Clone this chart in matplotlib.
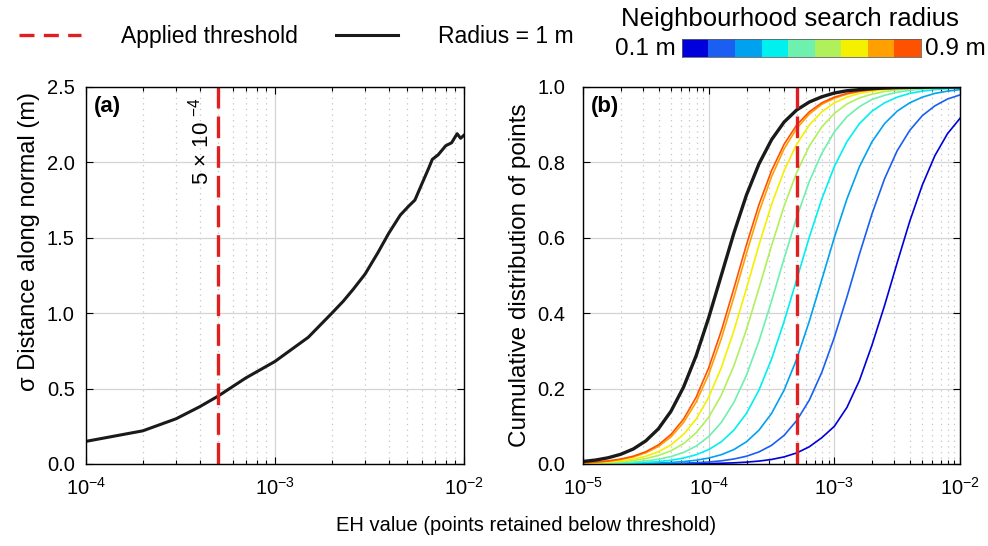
import numpy as np
import matplotlib
matplotlib.use("Agg")
import matplotlib.pyplot as plt
from matplotlib.colors import ListedColormap

plt.rcParams['font.family'] = ['Liberation Sans', 'DejaVu Sans']
plt.rcParams['mathtext.fontset'] = 'custom'
plt.rcParams['mathtext.rm'] = 'Liberation Sans'
plt.rcParams['mathtext.it'] = 'Liberation Sans:italic'
plt.rcParams['mathtext.default'] = 'regular'

# panel (a): sigma of distance along normal vs EH threshold, radius 1 m
eh_a = [1.0e-4, 2.0e-4, 3.0e-4, 4.0e-4, 5.0e-4, 7.0e-4, 1.0e-3, 1.5e-3, 2.0e-3,
        2.3e-3, 2.6e-3, 3.0e-3, 3.5e-3, 4.0e-3, 4.6e-3, 5.1e-3, 5.5e-3, 6.0e-3, 6.5e-3,
        6.8e-3, 7.3e-3, 8.0e-3, 8.6e-3, 9.2e-3, 9.6e-3, 1.0e-2]
sigma_a = [0.15, 0.22, 0.30, 0.38, 0.45, 0.57, 0.68, 0.84, 1.00,
           1.08, 1.16, 1.26, 1.40, 1.53, 1.65, 1.71, 1.75, 1.86, 1.96,
           2.02, 2.05, 2.11, 2.13, 2.19, 2.16, 2.18]

threshold = 5e-4

# panel (b): cumulative fraction of points, read at log10(EH) = -5.0 ... -2.0
log_eh_b = [-5.0, -4.9, -4.8, -4.7, -4.6, -4.5, -4.4, -4.3, -4.2, -4.1, -4.0,
            -3.9, -3.8, -3.7, -3.6, -3.5, -3.4, -3.3, -3.2, -3.1, -3.0,
            -2.9, -2.8, -2.7, -2.6, -2.5, -2.4, -2.3, -2.2, -2.1, -2.0]
radii = ['0.1 m', '0.2 m', '0.3 m', '0.4 m', '0.5 m', '0.6 m', '0.7 m', '0.8 m', '0.9 m']
cum_1m = [0.0067, 0.0105, 0.0165, 0.0257, 0.0398, 0.0614, 0.0934, 0.140, 0.204, 0.287, 0.388,
          0.500, 0.612, 0.713, 0.796, 0.860, 0.907, 0.939, 0.960, 0.974, 0.984,
          0.990, 0.993, 0.9957, 0.9973, 0.9983, 0.9989, 0.9993, 0.9996, 0.9997, 0.9998]
cum_b = {
    '0.9 m': [0.0033, 0.0052, 0.0082, 0.0131, 0.0206, 0.0325, 0.0507, 0.0784, 0.119, 0.177, 0.255,
              0.353, 0.465, 0.581, 0.688, 0.778, 0.848, 0.899, 0.934, 0.958, 0.973,
              0.983, 0.989, 0.993, 0.9957, 0.9973, 0.9983, 0.9989, 0.9993, 0.9996, 0.9997],
    '0.8 m': [0.0030, 0.0047, 0.0075, 0.0119, 0.0188, 0.0297, 0.0464, 0.0719, 0.110, 0.164, 0.238,
              0.332, 0.442, 0.558, 0.668, 0.762, 0.836, 0.890, 0.928, 0.954, 0.970,
              0.981, 0.988, 0.9925, 0.9953, 0.9970, 0.9981, 0.9988, 0.9993, 0.9995, 0.9997],
    '0.7 m': [0.0021, 0.0033, 0.0052, 0.0082, 0.0131, 0.0206, 0.0325, 0.0507, 0.0784, 0.119, 0.177,
              0.255, 0.353, 0.465, 0.581, 0.688, 0.778, 0.848, 0.899, 0.934, 0.958,
              0.973, 0.983, 0.989, 0.993, 0.9957, 0.9973, 0.9983, 0.9989, 0.9993, 0.9996],
    '0.6 m': [0.0015, 0.0024, 0.0037, 0.0058, 0.0092, 0.0144, 0.0225, 0.0350, 0.0540, 0.0825, 0.124,
              0.182, 0.260, 0.356, 0.466, 0.579, 0.684, 0.773, 0.843, 0.894, 0.930,
              0.955, 0.971, 0.981, 0.988, 0.9924, 0.9951, 0.9969, 0.9980, 0.9987, 0.9992],
    '0.5 m': [0.0008, 0.0013, 0.0021, 0.0032, 0.0051, 0.0080, 0.0126, 0.0197, 0.0306, 0.0474, 0.0727,
              0.110, 0.163, 0.235, 0.326, 0.432, 0.545, 0.654, 0.749, 0.824, 0.881,
              0.921, 0.948, 0.967, 0.978, 0.986, 0.9912, 0.9944, 0.9964, 0.9977, 0.9986],
    '0.4 m': [0.0004, 0.0007, 0.0010, 0.0016, 0.0026, 0.0041, 0.0064, 0.0100, 0.0157, 0.0246, 0.0382,
              0.0588, 0.0896, 0.134, 0.196, 0.278, 0.378, 0.489, 0.601, 0.703, 0.789,
              0.855, 0.903, 0.936, 0.958, 0.973, 0.983, 0.989, 0.993, 0.9955, 0.9972],
    '0.3 m': [0.0002, 0.0003, 0.0004, 0.0007, 0.0010, 0.0016, 0.0026, 0.0041, 0.0064, 0.0100, 0.0157,
              0.0246, 0.0382, 0.0588, 0.0896, 0.134, 0.196, 0.278, 0.378, 0.489, 0.601,
              0.703, 0.789, 0.855, 0.903, 0.936, 0.958, 0.973, 0.983, 0.989, 0.993],
    '0.2 m': [0.0001, 0.0001, 0.0001, 0.0002, 0.0004, 0.0006, 0.0009, 0.0014, 0.0022, 0.0034, 0.0053,
              0.0084, 0.0132, 0.0205, 0.0320, 0.0495, 0.0759, 0.115, 0.169, 0.243, 0.336,
              0.443, 0.557, 0.664, 0.757, 0.831, 0.885, 0.924, 0.950, 0.968, 0.979],
    '0.1 m': [0.0, 0.0, 0.0001, 0.0001, 0.0001, 0.0001, 0.0002, 0.0003, 0.0005, 0.0008, 0.0013,
              0.0020, 0.0031, 0.0049, 0.0077, 0.0120, 0.0188, 0.0293, 0.0455, 0.0697, 0.100,
              0.150, 0.222, 0.316, 0.421, 0.534, 0.644, 0.740, 0.818, 0.876, 0.917],
}
radius_colors = ['#0000dc', '#1a5ef2', '#00a2f0', '#00f0f0', '#6ef0ae',
                 '#b0f05a', '#f5f000', '#ffa000', '#ff5200']

tick_fs = 14.5
red = '#e02020'
dash = (0, (6.5, 2.4))

fig = plt.figure(figsize=(9.88, 5.46), dpi=100)
ax_a = fig.add_axes([0.0870, 0.1502, 0.3826, 0.6905])
ax_b = fig.add_axes([0.5901, 0.1502, 0.3816, 0.6905])


def style_axis(ax):
    ax.set_xscale('log')
    ax.grid(True, which='major', color='#d4d4d4', lw=0.9, ls='-')
    ax.grid(True, which='minor', axis='x', color='#c4c4c4', lw=0.9, ls=(0, (1, 3.5)))
    ax.set_axisbelow(True)
    ax.tick_params(which='both', direction='in', top=True, right=True,
                   labelsize=tick_fs, color='black')
    ax.tick_params(axis='x', pad=9)
    ax.tick_params(which='major', length=5, width=0.8)
    ax.tick_params(which='minor', length=3, width=0.8)
    for s in ax.spines.values():
        s.set_linewidth(1.0)


# ---- (a)
style_axis(ax_a)
ax_a.plot(eh_a, sigma_a, color='#1a1a1a', lw=2.2)
ax_a.axvline(threshold, color=red, lw=2.4, ls=dash)
ax_a.set_xlim(1e-4, 1e-2)
ax_a.set_ylim(0, 2.5)
ax_a.set_yticks(np.arange(0, 2.51, 0.5))
ax_a.set_yticklabels(['%.1f' % v for v in np.arange(0, 2.51, 0.5)])
ax_a.tick_params(axis='y', pad=8)
ax_a.set_ylabel('σ Distance along normal (m)', fontsize=17)
ax_a.yaxis.set_label_coords(-0.122, 0.59)
ax_a.text(0.02, 0.975, '(a)', transform=ax_a.transAxes, fontsize=16,
          fontweight='bold', va='top', ha='left')
ax_a.text(4.06e-4, 2.14, r'5 × 10 $^{-4}$', rotation=90, fontsize=16,
          ha='center', va='center')

# ---- (b)
style_axis(ax_b)
for r, c in zip(radii, radius_colors):
    ax_b.plot(10 ** np.array(log_eh_b), cum_b[r], color=c, lw=1.2)
ax_b.plot(10 ** np.array(log_eh_b), cum_1m, color='#1a1a1a', lw=2.4)
ax_b.axvline(threshold, color=red, lw=2.4, ls=dash)
ax_b.set_xlim(1e-5, 1e-2)
ax_b.set_ylim(0, 1)
ax_b.set_yticks(np.arange(0, 1.01, 0.2))
ax_b.set_yticklabels(['%.1f' % v for v in np.arange(0, 1.01, 0.2)])
ax_b.tick_params(axis='y', pad=13)
ax_b.set_ylabel('Cumulative distribution of points', fontsize=17.5)
ax_b.yaxis.set_label_coords(-0.138, 0.5)
ax_b.text(0.02, 0.975, '(b)', transform=ax_b.transAxes, fontsize=16,
          fontweight='bold', va='top', ha='left')

fig.text(0.532, 0.038, 'EH value (points retained below threshold)',
         fontsize=14.5, ha='center', va='center')

# ---- legend
h1, = ax_a.plot([], [], color=red, lw=2.4, ls=(0, (4.5, 2.8)))
h2, = ax_a.plot([], [], color='#1a1a1a', lw=2.2)
fig.legend([h1, h2], ['Applied threshold', 'Radius = 1 m'], loc='center left',
           bbox_to_anchor=(-0.002, 0.934), ncol=2, frameon=False, fontsize=16.5,
           handlelength=2.7, handletextpad=1.75, columnspacing=1.7)

# ---- discrete colour bar for the radii
ax_cb = fig.add_axes([0.6903, 0.8956, 0.2419, 0.033])
ax_cb.imshow(np.arange(len(radius_colors))[None, :], cmap=ListedColormap(radius_colors),
             aspect='auto')
ax_cb.set_xticks([])
ax_cb.set_yticks([])
for s in ax_cb.spines.values():
    s.set_linewidth(0.6)
    s.set_color('#606060')
ax_cb.text(-0.025, 0.45, radii[0], transform=ax_cb.transAxes, ha='right', va='center',
           fontsize=17.5)
ax_cb.text(1.015, 0.45, radii[-1], transform=ax_cb.transAxes, ha='left', va='center',
           fontsize=17.5)
ax_cb.set_title('Neighbourhood search radius', fontsize=18.5, pad=9, x=0.45)

fig.savefig('out.png', dpi=100)
